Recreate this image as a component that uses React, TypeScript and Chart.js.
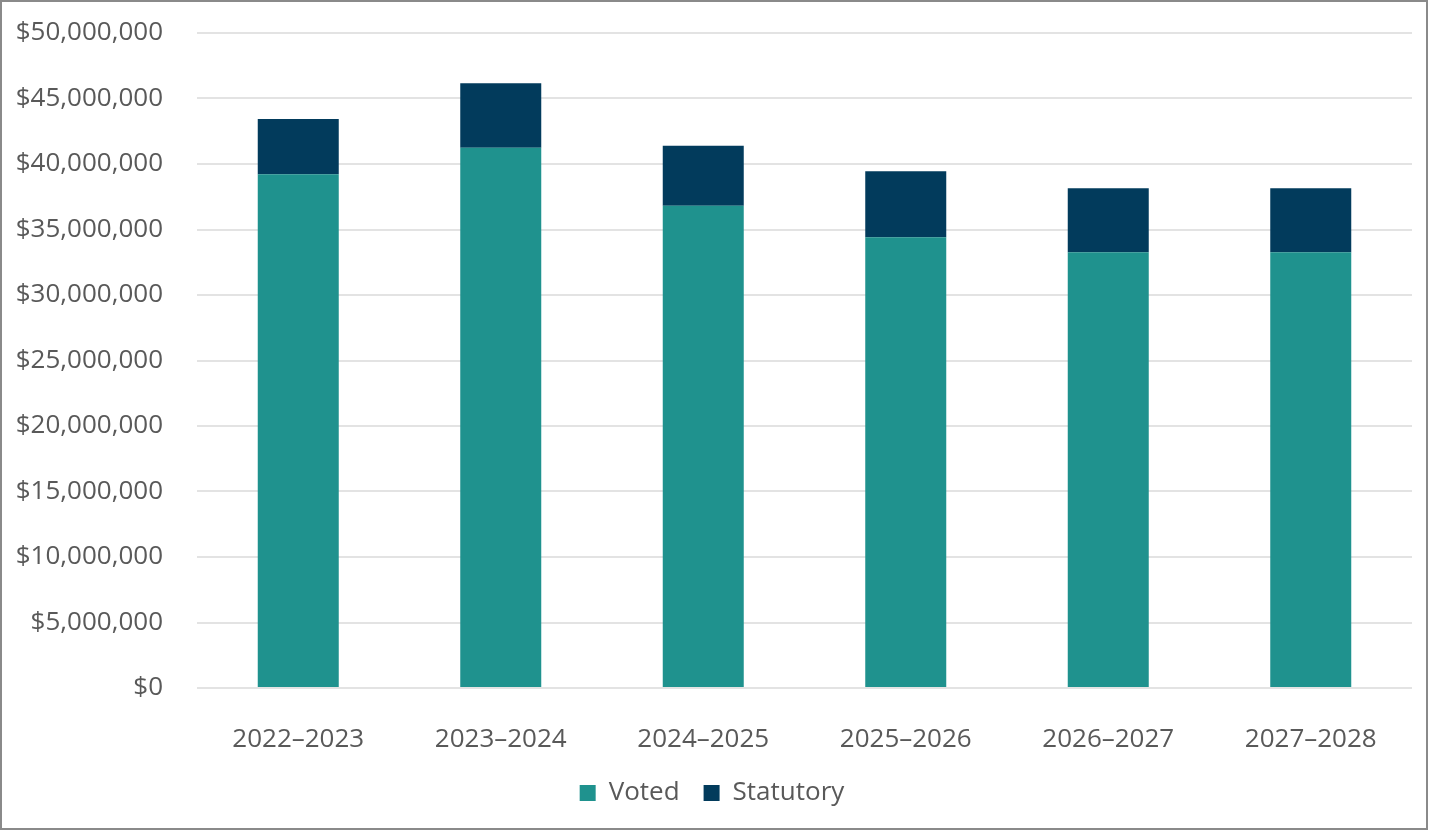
import React, { useEffect, useRef } from "react";
import { Chart, registerables } from "chart.js";

Chart.register(...registerables);

const categories = ["2022–2023", "2023–2024", "2024–2025", "2025–2026", "2026–2027", "2027–2028"];
const voted = [39210000, 41240000, 36820000, 34400000, 33260000, 33260000];
const statutory = [4230000, 4920000, 4580000, 5040000, 4890000, 4890000];
const yTicks = [0, 5000000, 10000000, 15000000, 20000000, 25000000, 30000000, 35000000, 40000000, 45000000, 50000000];

const FONT = "'Open Sans', 'Noto Sans', sans-serif";

export default function App() {
  const ref = useRef<HTMLCanvasElement | null>(null);

  useEffect(() => {
    if (!ref.current) return;
    const chart = new Chart(ref.current, {
      type: "bar",
      data: {
        labels: categories,
        datasets: [
          { label: "Voted", data: voted, backgroundColor: "#1f928e", borderWidth: 0 },
          { label: "Statutory", data: statutory, backgroundColor: "#023b5c", borderWidth: 0 },
        ],
      },
      options: {
        animation: false,
        responsive: false,
        devicePixelRatio: 1,
        layout: { padding: { left: 12, right: 18, top: 33, bottom: 16 } },
        datasets: { bar: { categoryPercentage: 0.4, barPercentage: 1 } },
        scales: {
          x: {
            stacked: true,
            grid: { display: false },
            border: { display: false },
            ticks: { color: "#595959", font: { family: FONT, size: 26 }, padding: 28 },
            afterFit: (scale: any) => {
              scale.height = 68;
            },
          },
          y: {
            stacked: true,
            min: 0,
            max: 50000000,
            afterBuildTicks: (scale: any) => {
              scale.ticks = yTicks.map((v) => ({ value: v }));
            },
            afterFit: (scale: any) => {
              scale.width = 185;
            },
            grid: { color: "#e3e3e3", lineWidth: 2, drawTicks: true, tickLength: 34, tickColor: "rgba(0,0,0,0)" },
            border: { display: false },
            ticks: {
              color: "#595959",
              font: { family: FONT, size: 26 },
              padding: 0,
              callback: (v: any) => "$" + Number(v).toLocaleString("en-US"),
            },
          },
        },
        plugins: {
          legend: {
            position: "bottom",
            labels: {
              color: "#595959",
              font: { family: FONT, size: 26 },
              boxWidth: 16,
              boxHeight: 16,
              padding: 24,
            },
          },
          tooltip: { enabled: false },
        },
      },
    });
    return () => chart.destroy();
  }, []);

  return (
    <div style={{ position: "fixed", left: 0, top: 0, width: 1430, height: 832, background: "#fff" }}>
      <canvas ref={ref} width={1430} height={832} style={{ position: "absolute", left: 0, top: 0 }} />
      <div
        style={{
          position: "absolute",
          left: 0,
          top: 0,
          width: 1428,
          height: 830,
          boxSizing: "border-box",
          border: "2px solid #8a8a8a",
          pointerEvents: "none",
        }}
      />
    </div>
  );
}
